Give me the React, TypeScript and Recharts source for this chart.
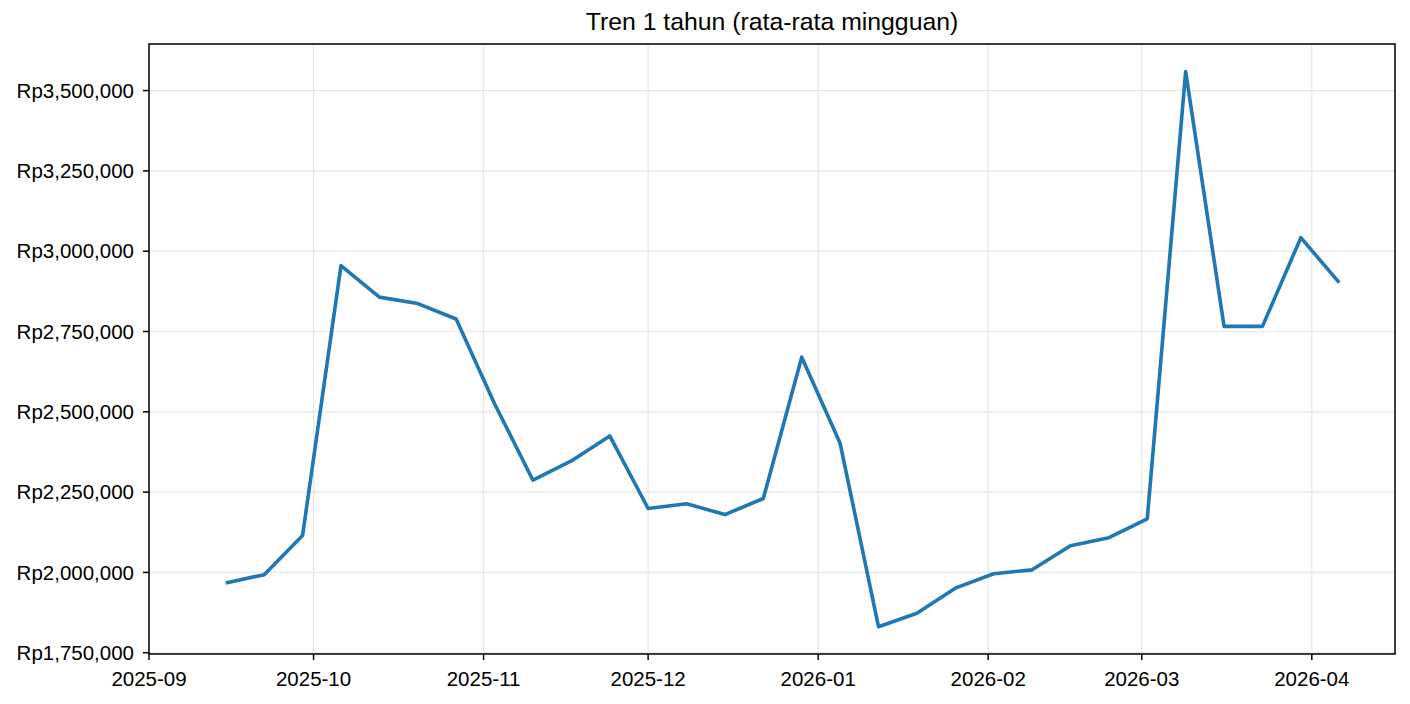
import React from "react";
import {
  LineChart,
  Line,
  XAxis,
  YAxis,
  CartesianGrid,
  ReferenceArea,
} from "recharts";

// weekly averages (week start, Monday)
const weeks = [
  "2025-09-15", "2025-09-22", "2025-09-29", "2025-10-06", "2025-10-13",
  "2025-10-20", "2025-10-27", "2025-11-03", "2025-11-10", "2025-11-17",
  "2025-11-24", "2025-12-01", "2025-12-08", "2025-12-15", "2025-12-22",
  "2025-12-29", "2026-01-05", "2026-01-12", "2026-01-19", "2026-01-26",
  "2026-02-02", "2026-02-09", "2026-02-16", "2026-02-23", "2026-03-02",
  "2026-03-09", "2026-03-16", "2026-03-23", "2026-03-30", "2026-04-06",
];

const weeklyAvg = [
  1967000, 1993000, 2115000, 2955000, 2857000,
  2837000, 2789000, 2525000, 2287000, 2347000,
  2425000, 2199000, 2214000, 2180000, 2230000,
  2670000, 2402000, 1831000, 1873000, 1951000,
  1996000, 2008000, 2083000, 2108000, 2167000,
  3559000, 2766000, 2766000, 3042000, 2902000,
];

const monthTicks = [
  "2025-09", "2025-10", "2025-11", "2025-12",
  "2026-01", "2026-02", "2026-03", "2026-04",
];

const yTicks = [1750000, 2000000, 2250000, 2500000, 2750000, 3000000, 3250000, 3500000];

const toTime = (s: string) => {
  const [y, m, d] = s.split("-").map(Number);
  return Date.UTC(y, m - 1, d || 1);
};

const data = weeks.map((w, i) => ({ t: toTime(w), value: weeklyAvg[i] }));

const xTicks = monthTicks.map(toTime);
const xMin = Date.UTC(2025, 8, 1);
const xMax = Date.UTC(2026, 3, 16, 4);
const yMin = 1746000;
const yMax = 3645000;

const fmtMonth = (t: number) => {
  const d = new Date(t);
  return `${d.getUTCFullYear()}-${String(d.getUTCMonth() + 1).padStart(2, "0")}`;
};

const fmtRp = (v: number) => "Rp" + v.toLocaleString("en-US");

const font = "'Liberation Sans', Arial, sans-serif";

export default function App() {
  return (
    <div style={{ position: "absolute", left: 0, top: 0, width: 1410, height: 704, background: "#fff", fontFamily: font }}>
      <div
        style={{
          position: "absolute",
          left: 149,
          width: 1246,
          top: 10,
          textAlign: "center",
          fontSize: 24.8,
          lineHeight: "24.8px",
          color: "#000",
        }}
      >
        Tren 1 tahun (rata-rata mingguan)
      </div>
      <LineChart
        width={1410}
        height={704}
        data={data}
        margin={{ top: 44, right: 15, bottom: 0, left: 0 }}
        style={{ fontFamily: font }}
      >
        <CartesianGrid stroke="#e6e6e6" strokeWidth={1.2} />
        <XAxis
          dataKey="t"
          type="number"
          domain={[xMin, xMax]}
          allowDataOverflow
          ticks={xTicks}
          tickFormatter={fmtMonth}
          height={50}
          axisLine={false}
          tickSize={6}
          tickMargin={11}
          tickLine={{ stroke: "#000", strokeWidth: 1.5 }}
          tick={{ fill: "#000", fontSize: 20.5 }}
          interval={0}
        />
        <YAxis
          type="number"
          domain={[yMin, yMax]}
          allowDataOverflow
          ticks={yTicks}
          tickFormatter={fmtRp}
          width={149}
          axisLine={false}
          tickSize={6}
          tickMargin={9}
          tickLine={{ stroke: "#000", strokeWidth: 1.5 }}
          tick={{ fill: "#000", fontSize: 20.5 }}
          interval={0}
        />
        <ReferenceArea
          x1={xMin}
          x2={xMax}
          y1={yMin}
          y2={yMax}
          fill="none"
          stroke="#000"
          strokeWidth={1.5}
          ifOverflow="visible"
        />
        <Line
          type="linear"
          dataKey="value"
          stroke="#1f77b4"
          strokeWidth={3.6}
          strokeLinejoin="round"
          dot={false}
          activeDot={false}
          isAnimationActive={false}
        />
      </LineChart>
    </div>
  );
}
